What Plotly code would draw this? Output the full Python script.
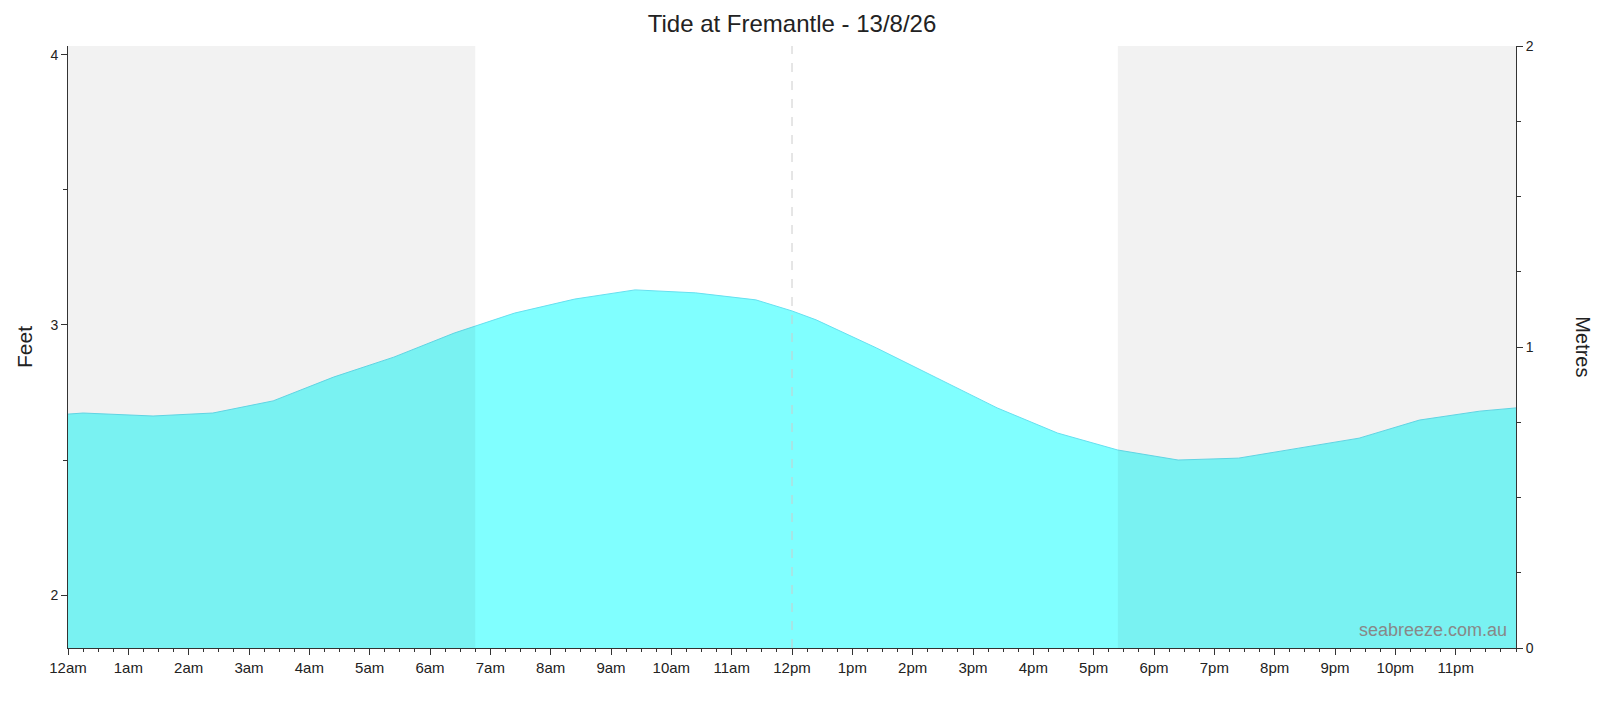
import plotly.graph_objects as go

hours = [0, 0.25, 1.41, 2.4, 3.4, 4.4, 5.4, 6.4, 7.4, 8.4, 9.4, 10.4, 11.4, 12.0, 12.4,
         13.4, 14.4, 15.4, 16.4, 17.4, 18.4, 19.4, 20.4, 21.4, 22.4, 23.4, 24.0]
feet = [2.670, 2.674, 2.663, 2.674, 2.719, 2.807, 2.881, 2.970, 3.044, 3.096, 3.130, 3.119,
        3.093, 3.052, 3.019, 2.915, 2.804, 2.693, 2.600, 2.537, 2.500, 2.507, 2.544, 2.581,
        2.648, 2.681, 2.693]
tick_hours = list(range(24))
tick_labels = ["12am"] + [f"{h}am" for h in range(1, 12)] + ["12pm"] + [f"{h}pm" for h in range(1, 12)]
night = [(0, 6.75), (17.4, 24)]

fig = go.Figure()
fig.add_trace(go.Scatter(x=hours, y=feet, mode="lines", fill="tozeroy",
                         fillcolor="#80ffff", line=dict(color="#66e0f0", width=1),
                         hoverinfo="skip", showlegend=False))
fig.add_trace(go.Scatter(x=[0, 24], y=[0, 0], yaxis="y2", mode="lines",
                         line=dict(width=0), showlegend=False, hoverinfo="skip"))
for a, b in night:
    fig.add_shape(type="rect", xref="x", yref="paper", x0=a, x1=b, y0=0, y1=1,
                  fillcolor="rgba(0,0,0,0.05)", line=dict(width=0), layer="above")
fig.add_shape(type="line", xref="x", yref="paper", x0=12, x1=12, y0=0, y1=1,
              line=dict(color="#cccccc", width=1, dash="dash"), layer="above")
fig.add_annotation(text="seabreeze.com.au", xref="paper", yref="paper", x=0.995, y=0.01,
                   xanchor="right", yanchor="bottom", showarrow=False,
                   font=dict(size=18, color="#888888", family="Arial, Liberation Sans"))
fig.add_annotation(text="Metres", xref="paper", yref="paper", x=1.055, y=0.5, textangle=90,
                   showarrow=False, font=dict(size=20, color="#222"))

fig.update_layout(
    width=1620, height=709, plot_bgcolor="white", paper_bgcolor="white",
    margin=dict(l=60, r=112, t=38, b=69),
    font=dict(family="Arial, Liberation Sans", color="#222"),
    title=dict(text="Tide at Fremantle - 13/8/26", x=0.5, xref="paper", y=0.99, yanchor="top",
               font=dict(size=24, color="#222")),
    xaxis=dict(range=[0, 24], tickvals=tick_hours, ticktext=tick_labels, ticks="outside",
               ticklen=6, tickcolor="#333", showgrid=False, zeroline=False, showline=True,
               linecolor="#333", tickfont=dict(size=15),
               minor=dict(dtick=0.25, ticks="outside", ticklen=3, tickcolor="#333")),
    yaxis=dict(range=[1.804, 4.033], tickvals=[2, 3, 4], ticks="outside", ticklen=6,
               tickcolor="#333", showgrid=False, zeroline=False, showline=True,
               linecolor="#333", tickfont=dict(size=14),
               title=dict(text="Feet", font=dict(size=21), standoff=12),
               minor=dict(dtick=0.5, ticks="outside", ticklen=4, tickcolor="#333")),
    yaxis2=dict(range=[0, 2], overlaying="y", side="right", tickvals=[0, 1, 2], ticks="outside",
                ticklen=6, tickcolor="#333", showgrid=False, zeroline=False, showline=True,
                linecolor="#333", tickfont=dict(size=14),
                minor=dict(dtick=0.25, ticks="outside", ticklen=4, tickcolor="#333")),
)
fig.write_html("out.html")
